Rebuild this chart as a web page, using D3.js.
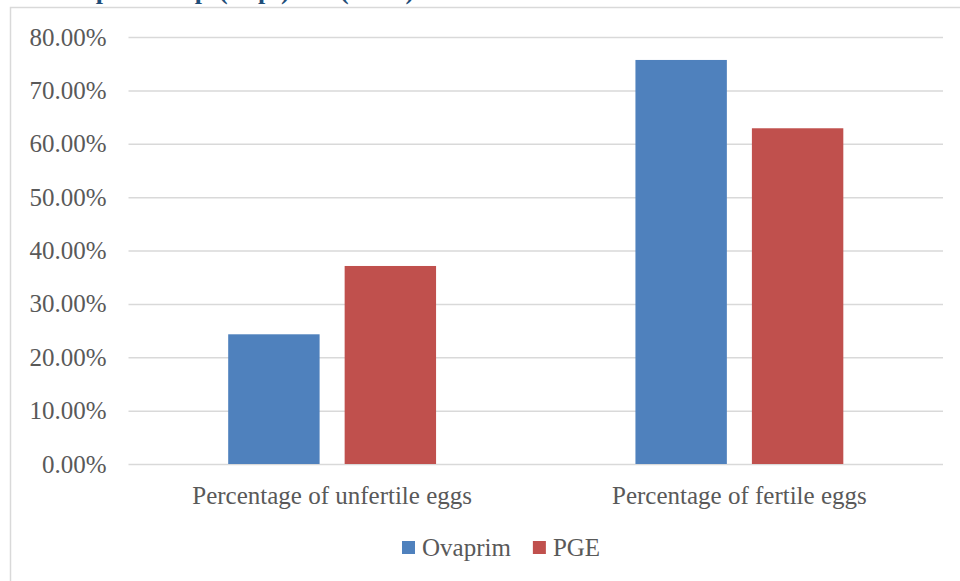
<!DOCTYPE html>
<html>
<head>
<meta charset="utf-8">
<script src="https://cdn.jsdelivr.net/npm/d3@7"></script>
<style>
  body { margin: 0; background: #fff; }
  svg { display: block; }
  text { font-family: "Liberation Serif", "DejaVu Serif", serif; fill: #595959; }
</style>
</head>
<body>
<div id="chart"></div>
<script>
// values
var categories = ["Percentage of unfertile eggs", "Percentage of fertile eggs"];
var seriesNames = ["Ovaprim", "PGE"];
var ovaprim = [0.243, 0.757];
var pge = [0.371, 0.629];
var yTicks = [0, 0.1, 0.2, 0.3, 0.4, 0.5, 0.6, 0.7, 0.8];
var colors = ["#4f81bd", "#c0504d"];
// words of the document heading that sits above the chart (mostly cut off)
var headingWords = ["Step", "Group", "(Expt)", "(Total)"];

var width = 960, height = 581;
var plot = {left: 128.5, right: 943, top: 37, bottom: 464};

var svg = d3.select("#chart").append("svg")
    .attr("width", width)
    .attr("height", height);

// heading, cut off by the top edge: only its descenders show
var headX = d3.scalePoint().domain(headingWords).range([61, 340]);
var head = svg.append("text")
    .attr("y", -1)
    .style("fill", "#1f4e79")
    .style("font-size", "26px")
    .style("font-weight", "bold");
head.selectAll("tspan")
    .data(headingWords)
  .enter().append("tspan")
    .attr("x", function(d, i) { return [61, 136, 219, 340][i]; })
    .text(function(d) { return d; });

// chart area border
svg.append("rect")
    .attr("x", 10.5)
    .attr("y", 7.5)
    .attr("width", 980)
    .attr("height", 600)
    .attr("fill", "#fff")
    .attr("stroke", "#d9d9d9")
    .attr("stroke-width", 1.5);

var y = d3.scaleLinear()
    .domain([0, 0.8])
    .range([plot.bottom, plot.top]);

var x0 = d3.scaleBand()
    .domain(categories)
    .range([plot.left, plot.right]);

var x1 = d3.scaleBand()
    .domain(seriesNames)
    .range([0, x0.bandwidth()])
    .paddingInner(0.215)
    .paddingOuter(0.856);

var color = d3.scaleOrdinal().domain(seriesNames).range(colors);

// gridlines + y labels
var yAxis = d3.axisLeft(y)
    .tickValues(yTicks)
    .tickSize(-(plot.right - plot.left))
    .tickPadding(22)
    .tickFormat(function(d) { return d3.format(".2f")(d * 100) + "%"; });

var gy = svg.append("g")
    .attr("transform", "translate(" + plot.left + ",0)")
    .call(yAxis);
gy.select(".domain").remove();
gy.selectAll(".tick line")
    .attr("stroke", "#d9d9d9")
    .attr("stroke-width", 1.5);
gy.selectAll(".tick text")
    .style("font-size", "25px")
    .style("fill", "#595959")
    .attr("font-family", null);

// bars
var rows = categories.map(function(c, i) {
  return {cat: c, vals: [
    {name: seriesNames[0], v: ovaprim[i]},
    {name: seriesNames[1], v: pge[i]}
  ]};
});

svg.selectAll(".group")
    .data(rows)
  .enter().append("g")
    .attr("class", "group")
    .attr("transform", function(d) { return "translate(" + x0(d.cat) + ",0)"; })
  .selectAll("rect")
    .data(function(d) { return d.vals; })
  .enter().append("rect")
    .attr("x", function(d) { return x1(d.name); })
    .attr("y", function(d) { return y(d.v); })
    .attr("width", x1.bandwidth())
    .attr("height", function(d) { return y(0) - y(d.v); })
    .attr("fill", function(d) { return color(d.name); });

// category labels
var xAxis = d3.axisBottom(x0).tickSize(0).tickPadding(22);
var gx = svg.append("g")
    .attr("transform", "translate(0," + plot.bottom + ")")
    .call(xAxis);
gx.select(".domain").remove();
gx.selectAll(".tick text")
    .style("font-size", "25px")
    .style("fill", "#595959")
    .attr("font-family", null);

// legend
var legend = svg.append("g").attr("transform", "translate(402,0)");
var lx = 0;
seriesNames.forEach(function(name, i) {
  var item = legend.append("g").attr("transform", "translate(" + lx + ",0)");
  item.append("rect")
      .attr("x", 0)
      .attr("y", 541)
      .attr("width", 13)
      .attr("height", 13)
      .attr("fill", color(name));
  var t = item.append("text")
      .attr("x", 20)
      .attr("y", 556)
      .style("font-size", "25px")
      .text(name);
  lx += 20 + t.node().getComputedTextLength() + 22;
});
</script>
</body>
</html>
